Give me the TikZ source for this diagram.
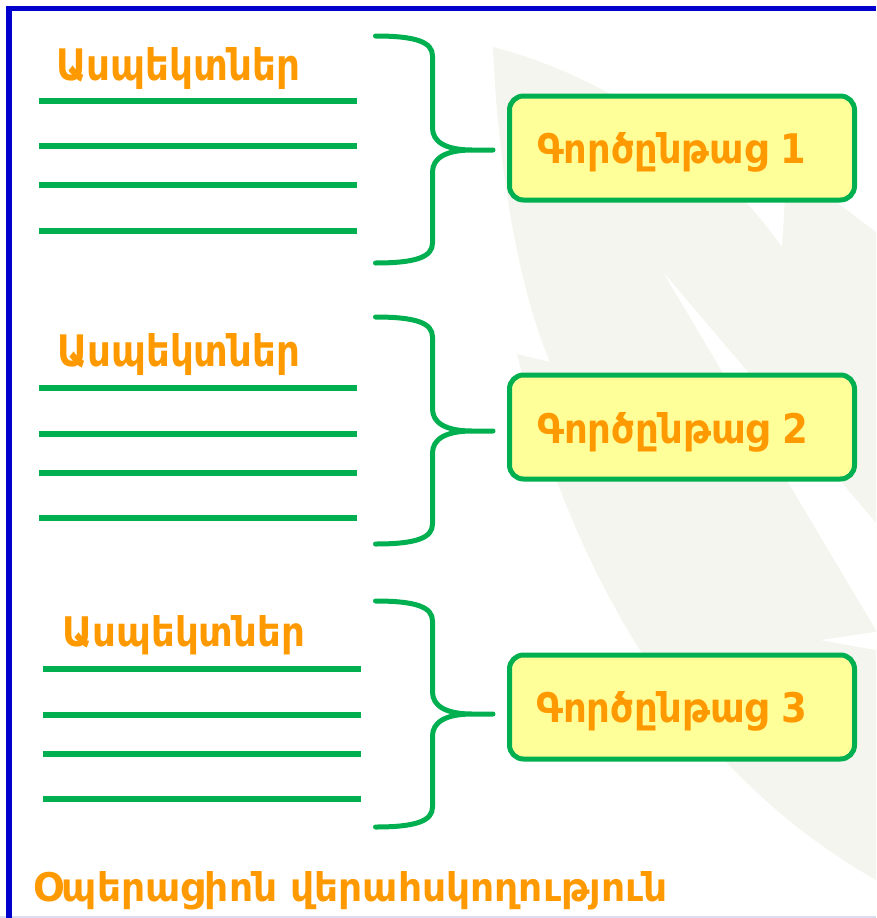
\documentclass[tikz,border=0pt]{standalone}
\usepackage{fontspec}
\usepackage{graphicx}
\newfontfamily\armfont{DejaVu Sans}
\definecolor{lgreen}{RGB}{0,176,80}
\definecolor{lorange}{RGB}{255,153,0}
\definecolor{lyellow}{RGB}{255,255,153}
\definecolor{lblue}{RGB}{0,0,204}
\definecolor{leafc}{RGB}{244,245,238}
\definecolor{lav}{RGB}{220,220,240}
\tikzset{
  gline/.style={draw=lgreen, line width=5.5pt},
  bracepath/.style={draw=lgreen, line width=5pt, line cap=round, line join=round},
  procbox/.style={draw=lgreen, line width=5pt, fill=lyellow, rounded corners=14pt,
    minimum width=345pt, minimum height=104pt, inner sep=0pt},
  lbl/.style={text=lorange, inner sep=0pt, anchor=base west, font=\armfont\bfseries},
}
\begin{document}
\begin{tikzpicture}[x=1pt,y=-1pt]
\useasboundingbox (0,0) rectangle (876,918);
% background leaves
\fill[leafc] (493,47) .. controls (620,80) and (720,160) .. (782,247) -- (787,165) -- (876,232)
  -- (876,880) .. controls (700,780) and (580,600) .. (517,354) -- (550,362)
  .. controls (515,280) and (497,150) .. (493,47) -- cycle;
\fill[white] (663,272) -- (876,523) -- (876,630) -- cycle;
\fill[white] (820,640) -- (876,632) -- (876,650) -- cycle;
% frame
\draw[lav, line width=2pt] (0,917) -- (876,917);
\draw[lblue, line width=5.5pt, line join=miter] (9,918) -- (9,8.5) -- (876,8.5);
% group labels
\node[lbl] (l1) at (56,80) {\resizebox{244pt}{33pt}{Ասպեկտներ}};
\node[lbl] (l2) at (57,366) {\resizebox{243pt}{33pt}{Ասպեկտներ}};
\node[lbl] (l3) at (62,646) {\resizebox{243pt}{31pt}{Ասպեկտներ}};
% lines
\foreach \y in {101,146,185,231,388,434,473,518} \draw[gline] (39,\y) -- (357,\y);
\foreach \y in {669,715,754,799} \draw[gline] (43,\y) -- (361,\y);
% braces
\foreach \yt/\ym/\yb [count=\i] in {36/150/263, 317/431/544, 601/714/827} {
  \coordinate (bt\i) at (375.5,\yt);
  \coordinate (bm\i) at (493,\ym);
  \coordinate (bb\i) at (375.5,\yb);
  \draw[bracepath] (bt\i) .. controls (416,\yt) and (432.5,{\yt+6}) .. (432.5,{\yt+20})
    -- (432.5,{\ym-22}) .. controls (432.5,{\ym-8}) and (446,\ym) .. (472,\ym) -- (bm\i)
    -- (472,\ym) .. controls (446,\ym) and (432.5,{\ym+8}) .. (432.5,{\ym+22})
    -- (432.5,{\yb-20}) .. controls (432.5,{\yb-6}) and (416,\yb) .. (bb\i);
}
% process boxes
\node[procbox] (p1) at (682,148) {};
\node[procbox] (p2) at (682,427) {};
\node[procbox] (p3) at (682,707) {};
\node[lbl] (t1) at (537,163) {\resizebox{269pt}{31pt}{Գործընթաց 1}};
\node[lbl] (t2) at (537,443) {\resizebox{271pt}{31pt}{Գործընթաց 2}};
\node[lbl] (t3) at (536,722) {\resizebox{271pt}{31pt}{Գործընթաց 3}};
% bottom text
\node[lbl] (bottom) at (33,901) {\resizebox{634pt}{30pt}{Օպերացիոն վերահսկողություն}};
\end{tikzpicture}
\end{document}
